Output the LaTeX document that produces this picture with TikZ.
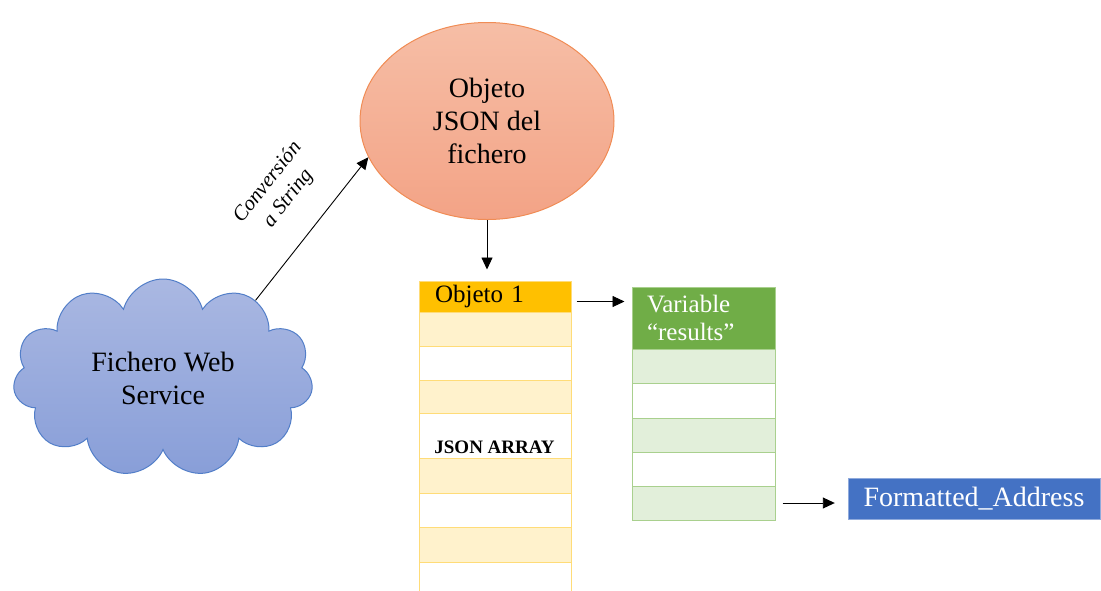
\documentclass[tikz,border=0pt]{standalone}
\usepackage{fontspec}
\setmainfont{Liberation Serif}
\definecolor{cloudtop}{RGB}{170, 184, 226}
\definecolor{cloudbot}{RGB}{136, 158, 216}
\definecolor{cloudedge}{RGB}{82, 126, 200}
\definecolor{objtop}{RGB}{246, 190, 166}
\definecolor{objbot}{RGB}{243, 163, 134}
\definecolor{objedge}{RGB}{240, 140, 85}
\definecolor{orhead}{RGB}{255, 192, 0}
\definecolor{orlight}{RGB}{255, 242, 204}
\definecolor{oredge}{RGB}{255, 220, 120}
\definecolor{grhead}{RGB}{112, 173, 71}
\definecolor{grlight}{RGB}{226, 239, 218}
\definecolor{gredge}{RGB}{169, 208, 142}
\definecolor{addrblue}{RGB}{68, 114, 196}
\definecolor{addredge}{RGB}{143, 170, 220}
\usepackage{tikz}
\usetikzlibrary{shapes.geometric, shapes.symbols, arrows.meta, positioning}
\newcommand{\bigtxt}{\fontsize{28}{33}\selectfont}
\newcommand{\midtxt}{\fontsize{25}{28}\selectfont}
\newcommand{\convtxt}{\fontsize{21}{26}\selectfont\itshape}

\begin{document}
\begin{tikzpicture}[x=1pt, y=-1pt,
  arr/.style={-{Triangle[length=12pt, width=11pt]}, line width=0.9pt},
  orrow/.style={draw=oredge, line width=1pt, minimum width=152pt, inner sep=0pt},
  grrow/.style={draw=gredge, line width=1pt, minimum width=143pt, inner sep=0pt}]
  \useasboundingbox (0,0) rectangle (1101,590);

  % Web service and JSON object
  \node[cloud, cloud puffs=11, aspect=1.5, draw=cloudedge, line width=1pt, top color=cloudtop, bottom color=cloudbot,
    minimum width=300pt, minimum height=198pt, font=\bigtxt, align=center] (ws) at (163, 378) {Fichero Web\\Service};

  \node[ellipse, draw=objedge, line width=1pt, top color=objtop, bottom color=objbot,
    minimum width=254pt, minimum height=197pt, inner sep=0pt, font=\bigtxt, align=center] (obj) at (487, 121) {Objeto\\JSON del\\fichero};

  \draw[arr] (ws.40) -- (obj.197) node[pos=0.55, sloped, above=24pt, font=\convtxt, align=center] (conv) {Conversión\\a String};

  % JSON array
  \node[orrow, fill=orhead, minimum height=31pt, text width=120pt, inner xsep=16pt, align=left, font=\midtxt] (hdr) at (495, 296.5) {Objeto 1};
  \node[orrow, fill=orlight, minimum height=34pt] (r1) at (495, 329) {};
  \node[orrow, fill=white, minimum height=34pt] (r2) at (495, 363) {};
  \node[orrow, fill=orlight, minimum height=33pt] (r3) at (495, 396.5) {};
  \node[orrow, fill=white, minimum height=45pt] (r4) at (495, 435.5) {};
  \node[orrow, fill=orlight, minimum height=35pt] (r5) at (495, 475.5) {};
  \node[orrow, fill=white, minimum height=34pt] (r6) at (495, 510) {};
  \node[orrow, fill=orlight, minimum height=35pt] (r7) at (495, 544.5) {};
  \node[orrow, fill=white, minimum height=34pt] (r8) at (495, 579) {};
  \node[anchor=base, font=\fontsize{19}{22}\selectfont\bfseries] (arrtxt) at (494.5, 453) {JSON ARRAY};

  \draw[arr, shorten >=11pt] (obj.south) -- (obj.south |- hdr.north);

  % Variable results
  \node[grrow, fill=grhead, minimum height=62pt, text width=113pt, inner xsep=15pt, align=left, text=white, font=\midtxt] (gh) at (703.5, 318) {Variable\\“results”};
  \node[grrow, fill=grlight, minimum height=34pt] (g1) at (703.5, 366) {};
  \node[grrow, fill=white, minimum height=35pt] (g2) at (703.5, 400.5) {};
  \node[grrow, fill=grlight, minimum height=34pt] (g3) at (703.5, 435) {};
  \node[grrow, fill=white, minimum height=34pt] (g4) at (703.5, 469) {};
  \node[grrow, fill=grlight, minimum height=34pt] (g5) at (703.5, 503) {};

  \coordinate (h1) at ([yshift=-5pt]hdr.east);
  \draw[arr, shorten <=5pt, shorten >=7pt] (h1) -- (h1 -| gh.west);

  % Formatted address
  \node[draw=addredge, fill=addrblue, minimum width=252pt, minimum height=41pt, inner sep=0pt, text=white, font=\bigtxt] (addr) at (974, 498.5) {Formatted\_Address};

  \draw[arr, shorten <=7pt, shorten >=13pt] (g5.east) -- (g5.east -| addr.west);
\end{tikzpicture}
\end{document}
